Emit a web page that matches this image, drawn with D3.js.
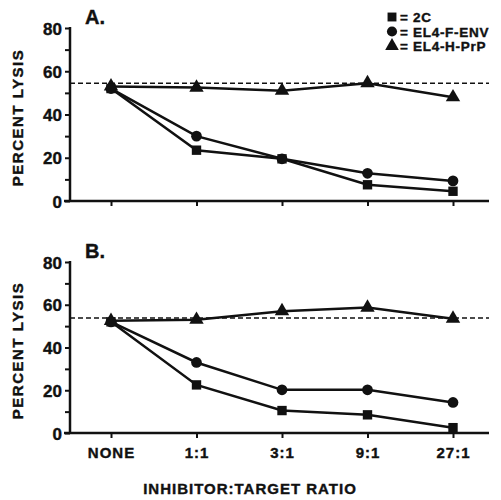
<!DOCTYPE html>
<html>
<head>
<meta charset="utf-8">
<script src="https://cdn.jsdelivr.net/npm/d3@7"></script>
<style>
body { margin: 0; background: #fff; }
text { font-family: "Liberation Sans", Arial, sans-serif; font-weight: bold; fill: #111; stroke: #111; stroke-width: 0.4px; }
</style>
</head>
<body>
<div id="chart"></div>
<script>
var width = 501, height = 500;

// categories on the x axis
var categories = ['NONE', '1:1', '3:1', '9:1', '27:1'];
var yTicks = [0, 20, 40, 60, 80];

// panel A values
var a2C     = [52, 23.5, 19.5, 7.5, 4.5];
var aEnv    = [52, 30, 19.5, 12.8, 9.3];
var aPrP    = [53, 52.5, 51, 54.5, 48];
var aRef    = 54.5;

// panel B values
var b2C     = [52, 22.5, 10.5, 8.5, 2.5];
var bEnv    = [52, 33, 20.2, 20.2, 14.3];
var bPrP    = [52.5, 53, 57, 58.7, 53.5];
var bRef    = 53.8;

var seriesNames = ['2C', 'EL4-F-ENV', 'EL4-H-PrP'];
var shapes = [d3.symbolSquare, d3.symbolCircle, d3.symbolTriangle];
var sizes = [88, 90, 90];

var panels = [
  {label: 'A.', top: 28, bottom: 201, series: [a2C, aEnv, aPrP], ref: aRef, xlabels: false},
  {label: 'B.', top: 262, bottom: 433, series: [b2C, bEnv, bPrP], ref: bRef, xlabels: true}
];

var svg = d3.select('#chart').append('svg')
    .attr('width', width)
    .attr('height', height);

var x = d3.scalePoint()
    .domain(categories)
    .range([111, 453]);

panels.forEach(function(p) {
  var y = d3.scaleLinear().domain([0, 80]).range([p.bottom, p.top]);
  var g = svg.append('g');

  // y axis
  var yAxis = d3.axisLeft(y).tickValues(d3.range(0, 81, 10)).tickSize(5)
      .tickFormat(function(d) { return yTicks.indexOf(d) >= 0 ? d : ''; });
  var ya = g.append('g').attr('transform', 'translate(70,0)').call(yAxis);
  ya.select('.domain').attr('stroke', '#111').attr('stroke-width', 2.5)
    .attr('d', 'M0,' + (p.top - 1) + 'V' + p.bottom);
  ya.selectAll('.tick line').attr('stroke', '#111').attr('stroke-width', 2);
  ya.selectAll('.tick text').attr('font-size', 17).attr('x', -8).attr('dy', '0.36em')
    .style('font-family', '"Liberation Sans", Arial, sans-serif').style('font-weight', 'bold').attr('fill', '#111');

  // x axis
  var xAxis = d3.axisBottom(x).tickSize(5).tickFormat(p.xlabels ? null : function() { return ''; });
  var xa = g.append('g').attr('transform', 'translate(0,' + p.bottom + ')').call(xAxis);
  xa.select('.domain').attr('stroke', '#111').attr('stroke-width', 2.5)
    .attr('d', 'M64,0H489');
  xa.selectAll('.tick line').attr('stroke', '#111').attr('stroke-width', 2);
  xa.selectAll('.tick text').attr('font-size', 15).attr('y', 14).attr('letter-spacing', 1)
    .style('font-family', '"Liberation Sans", Arial, sans-serif').style('font-weight', 'bold').attr('fill', '#111');

  // dashed reference line
  g.append('line')
    .attr('x1', 70).attr('x2', 489)
    .attr('y1', y(p.ref)).attr('y2', y(p.ref))
    .attr('stroke', '#111').attr('stroke-width', 1.5)
    .attr('stroke-dasharray', '5,3');

  var line = d3.line()
    .x(function(d, i) { return x(categories[i]); })
    .y(function(d) { return y(d); });

  p.series.forEach(function(vals, si) {
    g.append('path')
      .attr('d', line(vals))
      .attr('fill', 'none')
      .attr('stroke', '#111')
      .attr('stroke-width', 2.5);
  });
  // markers drawn after lines; triangles first so squares sit on top at NONE
  [2, 1, 0].forEach(function(si) {
    g.selectAll('.m' + si)
      .data(p.series[si])
      .enter().append('path')
      .attr('transform', function(d, i) { return 'translate(' + x(categories[i]) + ',' + y(d) + ')'; })
      .attr('d', d3.symbol().type(shapes[si]).size(sizes[si]))
      .attr('fill', '#111');
  });

  // panel label
  g.append('text')
    .attr('x', 85).attr('y', p.top - 4)
    .attr('font-size', 20)
    .text(p.label);

  // y axis title
  g.append('text')
    .attr('transform', 'translate(23,' + ((p.top + p.bottom) / 2 + 3) + ') rotate(-90)')
    .attr('text-anchor', 'middle')
    .attr('font-size', 15)
    .attr('letter-spacing', 1.5)
    .text('PERCENT  LYSIS');
});

// legend
var legend = svg.append('g')
  .selectAll('g')
  .data(seriesNames)
  .enter().append('g')
  .attr('transform', function(d, i) { return 'translate(392,' + (17 + i * 14.5) + ')'; });

legend.append('path')
  .attr('d', function(d, i) { return d3.symbol().type(shapes[i]).size(sizes[i] * 0.9)(); })
  .attr('fill', '#111');

legend.append('text')
  .attr('x', 8)
  .attr('y', 5)
  .attr('font-size', 13.5)
  .attr('letter-spacing', 0.7)
  .text(function(d) { return '= ' + d; });

// x axis title
svg.append('text')
  .attr('x', 250).attr('y', 494)
  .attr('text-anchor', 'middle')
  .attr('font-size', 15)
  .attr('letter-spacing', 1)
  .text('INHIBITOR:TARGET RATIO');
</script>
</body>
</html>
